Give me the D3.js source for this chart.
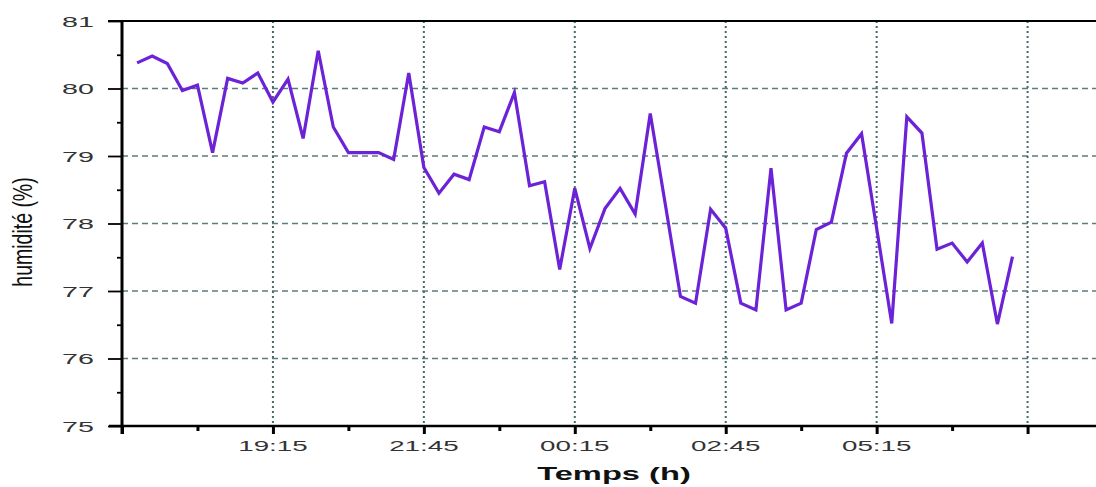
<!DOCTYPE html>
<html><head><meta charset="utf-8">
<script src="https://cdn.jsdelivr.net/npm/d3@7"></script>
<style>
html,body{margin:0;padding:0;background:#fff;}
svg{display:block;}
</style>
</head><body>
<svg id="chart" width="1096" height="487"></svg>
<script>
const times = ["17:00","17:15","17:30","17:45","18:00","18:15","18:30","18:45","19:00","19:15","19:30","19:45",
"20:00","20:15","20:30","20:45","21:00","21:15","21:30","21:45","22:00","22:15","22:30","22:45",
"23:00","23:15","23:30","23:45","00:00","00:15","00:30","00:45","01:00","01:15","01:30","01:45",
"02:00","02:15","02:30","02:45","03:00","03:15","03:30","03:45","04:00","04:15","04:30","04:45",
"05:00","05:15","05:30","05:45","06:00","06:15","06:30","06:45","07:00","07:15","07:30"];
const humidity = [80.38,80.48,80.37,79.97,80.05,79.05,80.15,80.08,80.23,79.80,80.14,79.26,
80.56,79.43,79.05,79.05,79.05,78.95,80.23,78.83,78.45,78.73,78.65,79.43,
79.36,79.94,78.56,78.62,77.32,78.52,77.63,78.22,78.52,78.14,79.63,78.28,
76.92,76.82,78.21,77.93,76.82,76.72,78.82,76.72,76.82,77.91,78.02,79.04,
79.33,77.93,76.52,79.58,79.34,77.62,77.71,77.43,77.71,76.51,77.51];
const xMajorTicks = ["16:45","19:15","21:45","00:15","02:45","05:15","07:45"];
const xTickLabels = ["","19:15","21:45","00:15","02:45","05:15",""];
const xMinorTicks = ["18:00","20:30","23:00","01:30","04:00","06:30"];
const yMajorTicks = [75,76,77,78,79,80,81];
const yMinorTicks = [75.5,76.5,77.5,78.5,79.5,80.5];
const xDomain = ["16:45","08:53"];
const yDomain = [75,81];
const xTitle = "Temps (h)";
const yTitle = "humidité (%)";

function toDate(s){
  const [h,m] = s.split(":").map(Number);
  return new Date(2000,0,h<12?2:1,h,m);
}

const svg = d3.select("#chart");
const pL=122, pR=1096, pT=21, pB=426;
const x = d3.scaleTime().domain(xDomain.map(toDate)).range([pL,pR]);
const y = d3.scaleLinear().domain(yDomain).range([pB,pT]);

// grid
const hGrid = yMajorTicks.filter(v=>v>75 && v<81);
svg.append("g").selectAll("line").data(hGrid).join("line")
  .attr("x1",pL).attr("x2",pR)
  .attr("y1",d=>y(d)).attr("y2",d=>y(d))
  .attr("stroke","#5d7c7c").attr("stroke-width",1.3).attr("stroke-dasharray","6,4");
svg.append("g").selectAll("line").data(xMajorTicks.slice(1)).join("line")
  .attr("x1",d=>x(toDate(d))).attr("x2",d=>x(toDate(d)))
  .attr("y1",pT).attr("y2",pB)
  .attr("stroke","#48696b").attr("stroke-width",2).attr("stroke-dasharray","2,3");

// line
const pts = times.map((t,i)=>({t:toDate(t), v:humidity[i]}));
svg.append("path").datum(pts)
  .attr("fill","none").attr("stroke","#6c22d6").attr("stroke-width",3.2)
  .attr("stroke-linejoin","miter")
  .attr("d", d3.line().x(d=>x(d.t)).y(d=>y(d.v)));

// axes
const xAxis = svg.append("g").attr("transform",`translate(0,${pB})`)
  .call(d3.axisBottom(x).tickValues(xMajorTicks.map(toDate)).tickSize(8).tickSizeOuter(0).tickFormat(""));
const xAxisMinor = svg.append("g").attr("transform",`translate(0,${pB})`)
  .call(d3.axisBottom(x).tickValues(xMinorTicks.map(toDate)).tickSize(5).tickSizeOuter(0).tickFormat(""));
xAxisMinor.select(".domain").remove();
[xAxis,xAxisMinor].forEach(g=>{g.selectAll(".tick line").attr("stroke","#000").attr("stroke-width",3);});
xAxis.select(".domain").remove();
svg.append("line").attr("x1",109).attr("x2",pR).attr("y1",pB).attr("y2",pB)
  .attr("stroke","#000").attr("stroke-width",2.5);

const yAxis = svg.append("g").attr("transform",`translate(${pL},0)`)
  .call(d3.axisLeft(y).tickValues(yMajorTicks).tickSize(14).tickSizeOuter(0).tickFormat(""));
const yAxisMinor = svg.append("g").attr("transform",`translate(${pL},0)`)
  .call(d3.axisLeft(y).tickValues(yMinorTicks).tickSize(5).tickSizeOuter(0).tickFormat(""));
yAxisMinor.select(".domain").remove();
yAxis.select(".domain").remove();
[yAxis,yAxisMinor].forEach(g=>{g.selectAll(".tick line").attr("stroke","#000").attr("stroke-width",1.8);});
svg.append("line").attr("x1",pL).attr("x2",pL).attr("y1",pT).attr("y2",434)
  .attr("stroke","#000").attr("stroke-width",3);
svg.append("line").attr("x1",108).attr("x2",pR).attr("y1",pT).attr("y2",pT)
  .attr("stroke","#000").attr("stroke-width",2.2);

// tick labels
const sx = 1.85;
svg.append("g").selectAll("text").data(xMajorTicks).join("text")
  .attr("transform",d=>`translate(${x(toDate(d))},451) scale(${sx},1)`)
  .attr("text-anchor","middle")
  .attr("font-family","Liberation Sans, Arial, sans-serif").attr("font-size",15)
  .attr("fill","#333")
  .text((d,i)=>xTickLabels[i]);
svg.append("g").selectAll("text").data(yMajorTicks).join("text")
  .attr("transform",d=>`translate(94,${y(d)+5.5}) scale(${sx},1)`)
  .attr("text-anchor","end")
  .attr("font-family","Liberation Sans, Arial, sans-serif").attr("font-size",15.5)
  .attr("fill","#333")
  .text(d=>d);

// titles
svg.append("text")
  .attr("transform",`translate(614,480) scale(1.72,1)`)
  .attr("text-anchor","middle")
  .attr("font-family","Liberation Sans, Arial, sans-serif").attr("font-size",19).attr("font-weight","bold")
  .attr("fill","#111")
  .text(xTitle);
svg.append("text")
  .attr("transform",`translate(32,232) rotate(-90) scale(1,1.45)`)
  .attr("text-anchor","middle")
  .attr("font-family","Liberation Sans, Arial, sans-serif").attr("font-size",19.5)
  .attr("fill","#111")
  .text(yTitle);
</script>
</body></html>
